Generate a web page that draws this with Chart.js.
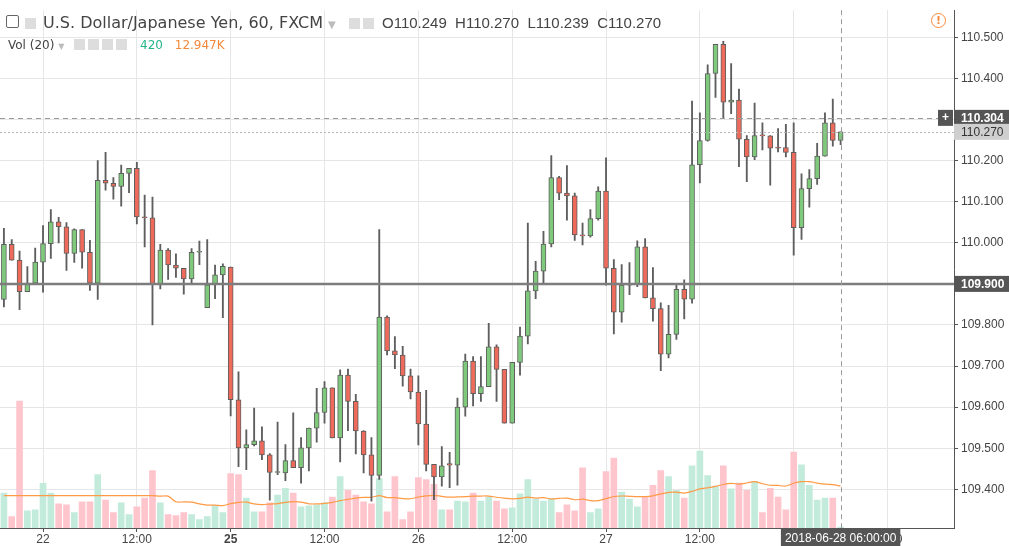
<!DOCTYPE html>
<html>
<head>
<meta charset="utf-8">
<script src="https://cdn.jsdelivr.net/npm/chart.js@4/dist/chart.umd.min.js"></script>
<style>
  body { margin: 0; background: #fff; font-family: "DejaVu Sans", sans-serif; }
  #wrap { position: relative; width: 1009px; height: 546px; }
  .hdr { position: absolute; white-space: nowrap; color: #444; }
  .ico { display: inline-block; width: 11px; height: 11px; background: #ddd; margin-right: 3px; vertical-align: -1px; }
</style>
</head>
<body>
<div id="wrap">
  <canvas id="myChart" width="1009" height="546"></canvas>
  <div class="hdr" style="left:6px;top:13px;font-size:16px;">
    <span style="display:inline-block;width:11px;height:11px;border:1px solid #666;border-radius:2px;vertical-align:0px;margin-right:6px"></span><span class="ico" style="margin-right:7px"></span>U.S. Dollar/Japanese Yen, 60, FXCM <span style="color:#bbb;font-size:10px">▼</span>
    <span class="ico" style="margin-left:8px"></span><span class="ico"></span>
  </div>
  <div class="hdr" style="left:382px;top:14px;font-size:15px;font-family:'Liberation Sans',Arial,sans-serif;">O110.249&nbsp; H110.270&nbsp; L110.239&nbsp; C110.270</div>
  <div class="hdr" style="left:8px;top:38px;font-size:12px;">
    Vol (20) <span style="color:#bbb;font-size:8px">▼</span>
    <span class="ico" style="margin-left:6px"></span><span class="ico"></span><span class="ico"></span><span class="ico"></span>
    <span style="color:#26b58a;margin-left:6px">420</span>
    <span style="color:#f5883a;margin-left:8px">12.947K</span>
  </div>
  <div class="hdr" style="left:931px;top:13px;width:13px;height:13px;border:1.5px solid #f5883a;border-radius:50%;color:#f5883a;font-size:11px;text-align:center;line-height:13px;font-weight:bold">!</div>
</div>
<script>
const ctx = document.getElementById("myChart").getContext("2d");

// hourly candles, USDJPY, from Jun 21 19:00
const opens = [109.862,109.996,109.958,109.881,109.902,109.953,109.998,110.051,110.039,109.974,110.032,109.977,109.902,110.152,110.145,110.137,110.169,110.181,110.063,110.061,109.898,109.982,109.946,109.938,109.912,109.977,109.842,109.898,109.922,109.941,109.618,109.501,109.509,109.518,109.484,109.441,109.440,109.470,109.453,109.501,109.549,109.587,109.647,109.525,109.678,109.614,109.542,109.484,109.434,109.819,109.737,109.727,109.676,109.637,109.559,109.461,109.430,109.463,109.459,109.600,109.712,109.633,109.650,109.747,109.692,109.561,109.709,109.773,109.883,109.931,109.997,110.159,110.121,110.114,110.019,110.017,110.059,110.126,109.938,109.831,109.897,109.899,109.990,109.866,109.840,109.729,109.777,109.887,109.863,110.190,110.249,110.412,110.483,110.342,110.347,110.252,110.209,110.261,110.260,110.232,110.232,110.220,110.037,110.132,110.156,110.211,110.292,110.249];
const highs = [110.035,110.008,109.980,109.942,109.987,110.042,110.081,110.062,110.049,110.034,110.032,110.006,110.200,110.220,110.159,110.189,110.181,110.196,110.116,110.111,109.996,109.986,109.973,109.938,109.986,110.004,110.008,109.946,109.949,109.941,109.686,109.545,109.598,109.552,109.487,109.564,109.509,109.586,109.526,109.549,109.646,109.662,109.647,109.691,109.693,109.631,109.543,109.526,110.032,109.822,109.772,109.748,109.693,109.676,109.641,109.461,109.504,109.490,109.622,109.729,109.723,109.723,109.804,109.752,109.692,109.709,109.795,110.048,109.955,110.028,110.212,110.162,110.188,110.121,110.048,110.081,110.136,110.207,109.959,109.947,109.952,110.005,110.010,109.940,109.854,109.848,109.901,109.910,110.345,110.316,110.433,110.483,110.490,110.436,110.374,110.261,110.340,110.292,110.261,110.278,110.288,110.292,110.168,110.178,110.242,110.316,110.350,110.270];
const lows = [109.844,109.958,109.837,109.881,109.902,109.880,109.962,110.000,109.933,109.952,109.938,109.884,109.862,110.128,110.106,110.089,110.122,110.046,109.990,109.800,109.888,109.911,109.916,109.875,109.898,109.947,109.842,109.864,109.818,109.579,109.455,109.448,109.506,109.472,109.374,109.436,109.421,109.453,109.415,109.445,109.515,109.561,109.525,109.467,109.543,109.486,109.440,109.371,109.424,109.727,109.694,109.651,109.620,109.508,109.445,109.375,109.408,109.404,109.410,109.578,109.603,109.614,109.650,109.614,109.561,109.561,109.678,109.754,109.864,109.900,109.990,110.105,110.055,110.006,109.995,110.014,110.055,109.897,109.778,109.807,109.874,109.893,109.866,109.809,109.689,109.720,109.765,109.815,109.853,110.146,110.247,110.354,110.302,110.314,110.185,110.149,110.202,110.226,110.140,110.221,110.209,109.970,110.008,110.087,110.142,110.211,110.235,110.239];
const closes = [109.996,109.958,109.881,109.902,109.953,109.998,110.051,110.039,109.974,110.032,109.977,109.902,110.152,110.145,110.137,110.169,110.181,110.063,110.061,109.898,109.982,109.946,109.938,109.912,109.977,109.978,109.898,109.922,109.943,109.618,109.501,109.509,109.518,109.484,109.441,109.442,109.470,109.453,109.501,109.549,109.587,109.647,109.525,109.678,109.614,109.542,109.484,109.434,109.819,109.737,109.727,109.676,109.637,109.559,109.461,109.430,109.457,109.459,109.600,109.712,109.633,109.650,109.747,109.692,109.561,109.709,109.773,109.883,109.931,109.997,110.159,110.121,110.114,110.019,110.017,110.059,110.126,109.938,109.831,109.897,109.899,109.990,109.866,109.840,109.729,109.777,109.887,109.863,110.190,110.249,110.412,110.483,110.342,110.347,110.252,110.209,110.261,110.260,110.230,110.230,110.220,110.037,110.132,110.156,110.211,110.292,110.249,110.270];
// volume in hundreds
const volumes = [107,35,390,53,56,137,107,74,71,47,80,80,164,86,47,77,41,65,92,176,77,41,38,47,41,26,35,68,47,167,164,92,50,50,77,101,122,107,65,68,71,77,95,158,116,101,80,74,152,50,158,26,50,155,149,134,56,56,83,80,107,83,95,83,59,62,105,149,89,83,90,47,71,53,185,47,59,173,215,110,89,65,96,131,176,158,116,92,191,236,161,129,191,120,138,116,143,47,122,95,56,233,194,131,86,92,92,3];

const slotCount = 122;
const tickIdx = [5, 17, 29, 41, 53, 65, 77, 89, 101, 113];
const tickText = ["22", "12:00", "25", "12:00", "26", "12:00", "27", "12:00", "28", "12:00"];
const priceTicks = [109.4, 109.5, 109.6, 109.7, 109.8, 109.9, 110.0, 110.1, 110.2, 110.3, 110.4, 110.5];

const lastPrice = 110.270, crossPrice = 110.304, levelPrice = 109.900;
const crossIdx = 107, crossLabel = "2018-06-28 06:00:00";

const labels = [];
for (let i = 0; i < slotCount; i++) {
  const k = tickIdx.indexOf(i);
  labels.push(k >= 0 ? tickText[k] : "");
}

const up = opens.map((o, i) => closes[i] >= o);
const GREEN = "#7fc97c", RED = "#ee6b5b", EDGE = "#5e5e5e";
const AXISFONT = "'Liberation Sans', Arial, sans-serif";

// 20 period volume average (first window reused until enough bars)
const volMA = volumes.map((v, i) => {
  const s = volumes.slice(Math.max(0, i - 19), Math.max(20, i + 1));
  return s.reduce((a, b) => a + b, 0) / s.length;
});

const linesPlugin = {
  id: "lines",
  afterDatasetsDraw(chart) {
    const { ctx, chartArea: a, scales } = chart;
    const y = scales.y, x = scales.x;
    ctx.save();
    ctx.strokeStyle = "#7d7d7d"; ctx.lineWidth = 2.5;
    let py = y.getPixelForValue(levelPrice);
    ctx.beginPath(); ctx.moveTo(a.left, py); ctx.lineTo(a.right, py); ctx.stroke();
    ctx.lineWidth = 1; ctx.strokeStyle = "#9a9a9a"; ctx.setLineDash([5, 4]);
    py = Math.round(y.getPixelForValue(crossPrice)) + 0.5;
    ctx.beginPath(); ctx.moveTo(a.left, py); ctx.lineTo(a.right, py); ctx.stroke();
    const px = Math.round(x.getPixelForValue(crossIdx)) + 0.5;
    ctx.beginPath(); ctx.moveTo(px, a.top); ctx.lineTo(px, a.bottom); ctx.stroke();
    ctx.strokeStyle = "#b5b5b5"; ctx.setLineDash([2, 2]);
    py = Math.round(y.getPixelForValue(lastPrice)) + 0.5;
    ctx.beginPath(); ctx.moveTo(a.left, py); ctx.lineTo(a.right, py); ctx.stroke();
    ctx.restore();
  },
  afterDraw(chart) {
    const { ctx, chartArea: a, scales } = chart;
    const y = scales.y, x = scales.x;
    ctx.save();
    ctx.textBaseline = "middle";
    function box(val, bg, fg, bold) {
      const py = y.getPixelForValue(val);
      ctx.font = (bold ? "bold " : "") + "12px " + AXISFONT;
      ctx.fillStyle = bg; ctx.fillRect(a.right, py - 8, 55, 16);
      ctx.fillStyle = fg; ctx.textAlign = "left";
      ctx.fillText(val.toFixed(3), a.right + 7, py + 1);
    }
    box(crossPrice, "#555", "#fff", true);
    let py = y.getPixelForValue(crossPrice);
    ctx.fillStyle = "#555"; ctx.fillRect(a.right - 16, py - 8, 15, 16);
    ctx.fillStyle = "#fff"; ctx.textAlign = "center"; ctx.fillText("+", a.right - 8.5, py);
    box(lastPrice, "#cfcfcf", "#333", false);
    box(levelPrice, "#555", "#fff", true);
    const px = x.getPixelForValue(crossIdx);
    ctx.font = "12px " + AXISFONT;
    const w = ctx.measureText(crossLabel).width + 8;
    ctx.fillStyle = "#555"; ctx.fillRect(px - w / 2, a.bottom + 1, w, 18);
    ctx.fillStyle = "#fff"; ctx.textAlign = "center"; ctx.fillText(crossLabel, px, a.bottom + 11);
    ctx.restore();
  }
};

const chart = new Chart(ctx, {
  type: "bar",
  data: {
    labels: labels,
    datasets: [
      {
        label: "bodies",
        data: opens.map((o, i) => [o, closes[i]]),
        backgroundColor: up.map(u => (u ? GREEN : RED)),
        borderColor: EDGE,
        borderWidth: 1,
        borderSkipped: false,
        barThickness: 5,
        minBarLength: 1,
        grouped: false,
        yAxisID: "y",
        order: 1,
      },
      {
        label: "wicks",
        data: lows.map((l, i) => [l, highs[i]]),
        backgroundColor: EDGE,
        barThickness: 1.2,
        grouped: false,
        yAxisID: "y",
        order: 2,
      },
      {
        type: "line",
        label: "Vol MA",
        data: volMA,
        borderColor: "#ff9a45",
        borderWidth: 1.2,
        pointRadius: 0,
        tension: 0.3,
        yAxisID: "yv",
        order: 3,
      },
      {
        label: "Vol",
        data: volumes,
        backgroundColor: up.map(u => (u ? "#c2ebdc" : "#ffc5cd")),
        barThickness: 6,
        grouped: false,
        yAxisID: "yv",
        order: 4,
      },
    ],
  },
  options: {
    responsive: false,
    animation: false,
    layout: { padding: 0 },
    plugins: { legend: { display: false }, tooltip: { enabled: false } },
    scales: {
      x: {
        offset: true,
        grid: {
          offset: false,
          color: c => (c.tick && c.tick.label ? "#e6e6e6" : "rgba(0,0,0,0)"),
          tickLength: 4,
          tickColor: c => (c.tick && c.tick.label ? "#555" : "rgba(0,0,0,0)"),
        },
        border: { color: "#555", width: 1 },
        ticks: {
          autoSkip: false,
          maxRotation: 0,
          padding: 0,
          color: "#444",
          font: c => ({ family: AXISFONT, size: 12, weight: c.tick && c.tick.label === "25" ? "bold" : "normal" }),
        },
        afterFit: s => { s.height = 18; },
      },
      y: {
        position: "right",
        min: 109.306,
        max: 110.566,
        afterBuildTicks: s => { s.ticks = priceTicks.map(v => ({ value: v })); },
        grid: { color: "#e6e6e6", tickLength: 4, tickColor: "#555" },
        border: { color: "#555", width: 1 },
        ticks: {
          color: "#444",
          padding: 3,
          font: { family: AXISFONT, size: 12 },
          callback: v => v.toFixed(3),
        },
        afterFit: s => { s.width = 55; },
      },
      yv: { display: false, min: 0, max: 1590 },
    },
  },
  plugins: [linesPlugin],
});
</script>
</body>
</html>
